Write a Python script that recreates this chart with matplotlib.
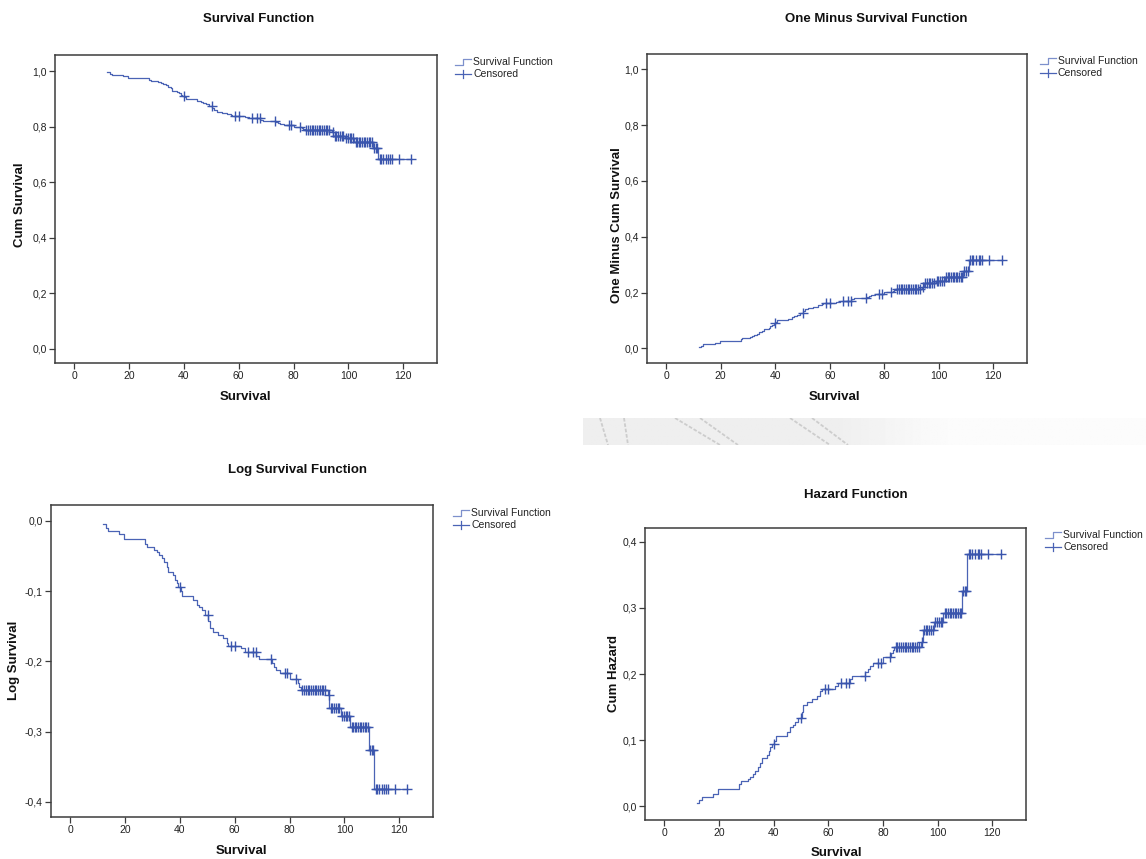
import numpy as np
import matplotlib
matplotlib.use("Agg")
import matplotlib.pyplot as plt
from matplotlib.lines import Line2D
from matplotlib.ticker import FuncFormatter, FixedLocator

plt.rcParams['font.family'] = ['Liberation Sans', 'DejaVu Sans']

# ---- data ----
event_times = [12.1, 12.9, 13.7, 17.9, 19.7, 27.3, 28.0, 30.7, 31.5, 32.4, 33.3, 34.2,
               35.2, 35.8, 37.6, 38.2, 38.8, 39.4, 40.3, 40.8, 44.8, 46.1, 47.0, 47.9,
               49.1, 50.3, 50.9, 52.1, 54.0, 55.8, 57.0, 57.6, 62.4, 63.6, 67.9, 68.8,
               73.6, 74.5, 75.2, 76.4, 80.0, 83.0, 83.6, 84.2, 93.9, 94.5, 98.8, 102.1,
               108.9, 110.9]
surv_values = [0.9953, 0.9906, 0.9859, 0.9812, 0.9743, 0.9675, 0.9632, 0.9598, 0.9564,
               0.9522, 0.9482, 0.9427, 0.9371, 0.9296, 0.9259, 0.9194, 0.9148, 0.9107,
               0.9057, 0.8991, 0.8932, 0.8872, 0.8843, 0.8807, 0.8746, 0.8668, 0.8581,
               0.8539, 0.8504, 0.8462, 0.8403, 0.8373, 0.8341, 0.8303, 0.8245, 0.8212,
               0.8165, 0.8122, 0.8090, 0.8057, 0.7981, 0.7937, 0.7898, 0.7862, 0.7804,
               0.7657, 0.7573, 0.7460, 0.7218, 0.6825]
censor_times = [40.0, 50.1, 58.8, 60.0, 64.8, 66.6, 67.6, 73.3, 78.2, 79.2, 82.5,
                84.6, 85.3, 86.0, 86.6, 87.2, 87.9, 88.5, 89.2, 89.8, 90.5, 91.1, 91.7,
                92.3, 93.0, 94.3,
                95.0, 95.6, 96.2, 96.9, 97.5, 98.2,
                99.2, 99.8, 100.5, 101.1, 101.7,
                102.6, 103.2, 103.8, 104.4, 105.0, 105.6, 106.2, 106.8, 107.4, 108.0, 108.5,
                109.3, 109.9, 110.5,
                111.4, 112.0, 112.6, 113.6, 114.6, 115.2, 115.9, 118.5, 123.0]
last_time = 123.0
x_ticks = [0, 20, 40, 60, 80, 100, 120]

panel_titles = ["Survival Function", "One Minus Survival Function",
                "Log Survival Function", "Hazard Function"]
panel_ylabels = ["Cum Survival", "One Minus Cum Survival", "Log Survival", "Cum Hazard"]
panel_yticks = [[0.0, 0.2, 0.4, 0.6, 0.8, 1.0],
                [0.0, 0.2, 0.4, 0.6, 0.8, 1.0],
                [-0.4, -0.3, -0.2, -0.1, 0.0],
                [0.0, 0.1, 0.2, 0.3, 0.4]]
legend_labels = ["Survival Function", "Censored"]

# ---- figure ----
W, H = 1146, 859
fig = plt.figure(figsize=(W / 100, H / 100), dpi=100)
fig.patch.set_facecolor('white')

def fx(x):
    return x / W

def fy(y):
    return 1 - y / H

def ax_rect(l, t, r, b):
    return [fx(l), fy(b), (r - l) / W, (b - t) / H]

LINE = '#4a63b5'
MARK = '#3a55ad'
SPINE = '#3c3c3c'

S = np.array(surv_values)
et = np.array(event_times)
ct = np.array(censor_times)

def s_at(t):
    idx = np.searchsorted(et, t, side='right') - 1
    return np.where(idx >= 0, S[np.clip(idx, 0, None)], 1.0)

transforms = [lambda s: s, lambda s: 1 - s, lambda s: np.log(s), lambda s: -np.log(s)]

panels = [
    dict(rect=(55, 55, 437, 363), ylim=(-0.0504, 1.0576), title=(259, 19),
         xlab=(245, 397), ylab=(20, 205), leg=(455, 62)),
    dict(rect=(647, 54, 1027, 363), ylim=(-0.0527, 1.055), title=(876, 19),
         xlab=(834, 397), ylab=(617, 225), leg=(1040, 61)),
    dict(rect=(51, 505, 433, 817), ylim=(-0.4218, 0.0228), title=(297, 470),
         xlab=(241, 851), ylab=(14, 660), leg=(453, 513)),
    dict(rect=(645, 528, 1026, 820), ylim=(-0.021, 0.421), title=(856, 495),
         xlab=(836, 853), ylab=(614, 674), leg=(1045, 535)),
]

fmt_y = FuncFormatter(lambda v, p: f"{v:.1f}".replace('.', ','))

for i, p in enumerate(panels):
    ax = fig.add_axes(ax_rect(*p['rect']))
    f = transforms[i]
    xs = np.append(et, last_time)
    ys = f(np.append(S, S[-1]))
    ax.step(xs, ys, where='post', color=LINE, lw=0.9, zorder=3)
    ax.plot(ct, f(s_at(ct)), linestyle='none', marker='+', ms=6.5, mew=1.0,
            color=MARK, zorder=4)
    ax.set_xlim(-7, 132.3)
    ax.set_ylim(*p['ylim'])
    ax.xaxis.set_major_locator(FixedLocator(x_ticks))
    ax.yaxis.set_major_locator(FixedLocator(panel_yticks[i]))
    ax.yaxis.set_major_formatter(fmt_y)
    ax.tick_params(direction='out', length=4, width=0.9, color=SPINE,
                   labelsize=7.5, labelcolor='#222222', pad=2)
    for sp in ax.spines.values():
        sp.set_color(SPINE)
        sp.set_linewidth(1.1)
    fig.text(fx(p['title'][0]), fy(p['title'][1]), panel_titles[i], ha='center',
             va='center', fontsize=9.5, fontweight='bold', color='#111111')
    fig.text(fx(p['xlab'][0]), fy(p['xlab'][1]), "Survival", ha='center',
             va='center', fontsize=9.5, fontweight='bold', color='#111111')
    fig.text(fx(p['ylab'][0]), fy(p['ylab'][1]), panel_ylabels[i], ha='center',
             va='center', rotation=90, fontsize=9.5, fontweight='bold', color='#111111')
    # legend
    lx, ly = p['leg']
    fig.add_artist(Line2D([fx(lx), fx(lx + 8), fx(lx + 8), fx(lx + 16)],
                          [fy(ly + 3), fy(ly + 3), fy(ly - 3), fy(ly - 3)],
                          color='#7d90cc', lw=0.9))
    fig.add_artist(Line2D([fx(lx), fx(lx + 16)], [fy(ly + 12), fy(ly + 12)],
                          color=LINE, lw=0.9))
    fig.add_artist(Line2D([fx(lx + 8), fx(lx + 8)], [fy(ly + 8), fy(ly + 16)],
                          color=LINE, lw=0.9))
    fig.text(fx(lx + 18), fy(ly), legend_labels[0], ha='left', va='center',
             fontsize=7.5, color='#222222')
    fig.text(fx(lx + 18), fy(ly + 12), legend_labels[1], ha='left', va='center',
             fontsize=7.5, color='#222222')

# faint grey band (screenshot artefact) in the middle right
band = fig.add_axes(ax_rect(583, 418, 1146, 445))
band.set_axis_off()
gx = np.linspace(0, 1, 400)
grad = 0.935 + 0.05 * np.clip((gx - 0.45) / 0.2, 0, 1)
img = np.tile(grad, (20, 1))
band.imshow(img, cmap='gray', vmin=0, vmax=1, aspect='auto', extent=(583, 1146, 445, 418))
for x0, x1 in [(600, 608), (624, 628), (675, 720), (700, 738), (790, 830), (812, 848)]:
    band.plot([x0, x1], [418, 445], color='#cdcdcd', lw=1.3, ls=(0, (2, 1)))
band.set_xlim(583, 1146)
band.set_ylim(445, 418)

fig.savefig("out.png", dpi=100, facecolor='white')
